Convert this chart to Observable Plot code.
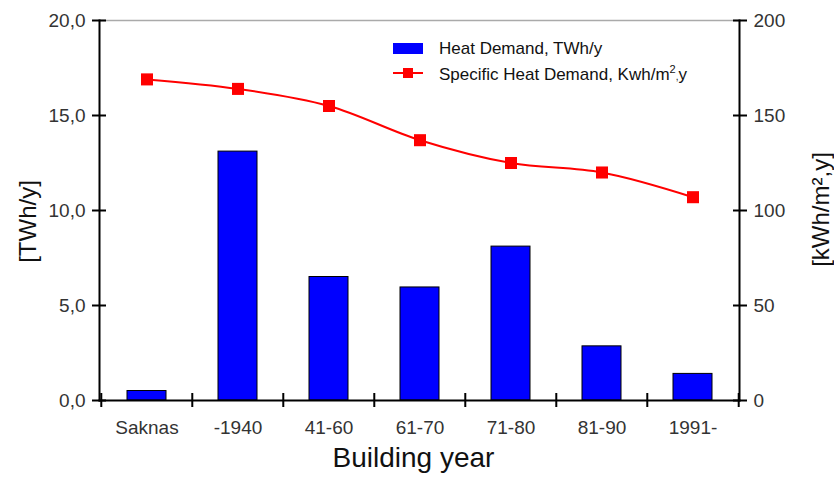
<!DOCTYPE html>
<html><head><meta charset="utf-8">
<script src="https://cdn.jsdelivr.net/npm/d3@7"></script>
<script src="https://cdn.jsdelivr.net/npm/@observablehq/plot@0.6"></script>
<style>
body{margin:0;background:#fff;font-family:"Liberation Sans",Arial,sans-serif;}
#wrap{position:relative;width:834px;height:481px;overflow:hidden;}
.lg{position:absolute;font-size:17px;color:#111;white-space:nowrap;line-height:1;}
.sw{position:absolute;}
</style></head><body>
<div id="wrap"><div id="chart"></div>
<div class="sw" style="left:393px;top:43px;width:30px;height:11px;background:#0000ff;"></div>
<div class="lg" style="left:439px;top:40px;">Heat Demand, TWh/y</div>
<div class="sw" style="left:393px;top:72px;width:30px;height:2px;background:#ff0000;"></div>
<div class="sw" style="left:403px;top:68px;width:10px;height:10px;background:#ff0000;"></div>
<div class="lg" style="left:439px;top:64px;">Specific Heat Demand, Kwh/m<span style="font-size:11px;vertical-align:7px;">2</span><span style="font-size:10px;">,</span>y</div>
</div>
<script>
const categories = ["Saknas", "-1940", "41-60", "61-70", "71-80", "81-90", "1991-"];
const heatDemand = [0.5, 13.1, 6.5, 5.95, 8.1, 2.85, 1.4];
const specificHeatDemand = [169, 164, 155, 137, 125, 120, 107];
const leftTicks = [0, 5, 10, 15, 20];
const rightTickLabels = ["0", "50", "100", "150", "200"];

const data = categories.map((c, i) => ({cat: c, heat: heatDemand[i], spec: specificHeatDemand[i]}));
const fmtLeft = d => d.toFixed(1).replace(".", ",");
const fmtRight = d => rightTickLabels[leftTicks.indexOf(d)];
const halfBand = (834 - 99 - 95) / categories.length / 2;

const plot = Plot.plot({
  width: 834,
  height: 481,
  marginLeft: 99,
  marginRight: 95,
  marginTop: 20,
  marginBottom: 81,
  style: {fontFamily: "Liberation Sans, Arial, sans-serif", fontSize: "19px", background: "#fff"},
  x: {domain: categories, padding: 0},
  y: {domain: [0, 20]},
  marks: [
    Plot.frame({anchor: "top", stroke: "#aaa", strokeWidth: 1.5}),
    Plot.barY(data, {x: "cat", y: "heat", fill: "#0000ff", stroke: "#000", strokeWidth: 1, insetLeft: 26, insetRight: 26}),
    Plot.line(data, {x: "cat", y: d => d.spec / 10, stroke: "#ff0000", strokeWidth: 2, curve: "catmull-rom"}),
    Plot.dot(data, {x: "cat", y: d => d.spec / 10, symbol: "square", fill: "#ff0000", r: 6.8}),
    Plot.frame({anchor: "left", stroke: "#000", strokeWidth: 2}),
    Plot.frame({anchor: "right", stroke: "#000", strokeWidth: 2}),
    Plot.frame({anchor: "bottom", stroke: "#000", strokeWidth: 2}),
    Plot.axisY({anchor: "left", ticks: leftTicks, tickSize: 14, dx: 7, tickFormat: () => "", strokeWidth: 2, stroke: "#000", label: null}),
    Plot.axisY({anchor: "left", ticks: leftTicks, tickSize: 0, tickPadding: 14, tickFormat: fmtLeft, fontSize: 19, fill: "#333", label: null}),
    Plot.axisY({anchor: "right", ticks: leftTicks, tickSize: 14, dx: -7, tickFormat: () => "", strokeWidth: 2, stroke: "#000", label: null}),
    Plot.axisY({anchor: "right", ticks: leftTicks, tickSize: 0, tickPadding: 14, tickFormat: fmtRight, fontSize: 19, fill: "#333", label: null}),
    Plot.axisX({ticks: categories, tickSize: 14, dy: -7, dx: -halfBand, tickFormat: () => "", strokeWidth: 2, stroke: "#000", label: null}),
    Plot.axisX({ticks: [categories[categories.length - 1]], tickSize: 14, dy: -7, dx: halfBand, tickFormat: () => "", strokeWidth: 2, stroke: "#000", label: null}),
    Plot.axisX({ticks: categories, tickSize: 0, tickPadding: 20, fontSize: 19, fill: "#333", label: null}),
    Plot.text(["[TWh/y]"], {frameAnchor: "left", textAnchor: "middle", rotate: -90, dx: -71, dy: 11, fontSize: 24, fill: "#111"}),
    Plot.text(["[kWh/m²,y]"], {frameAnchor: "right", textAnchor: "middle", rotate: -90, dx: 82, dy: -1, fontSize: 24, fill: "#111"}),
    Plot.text(["Building year"], {frameAnchor: "bottom", dx: -6, dy: 66, fontSize: 28, fill: "#111"})
  ]
});
document.getElementById("chart").appendChild(plot);
</script>
</body></html>
